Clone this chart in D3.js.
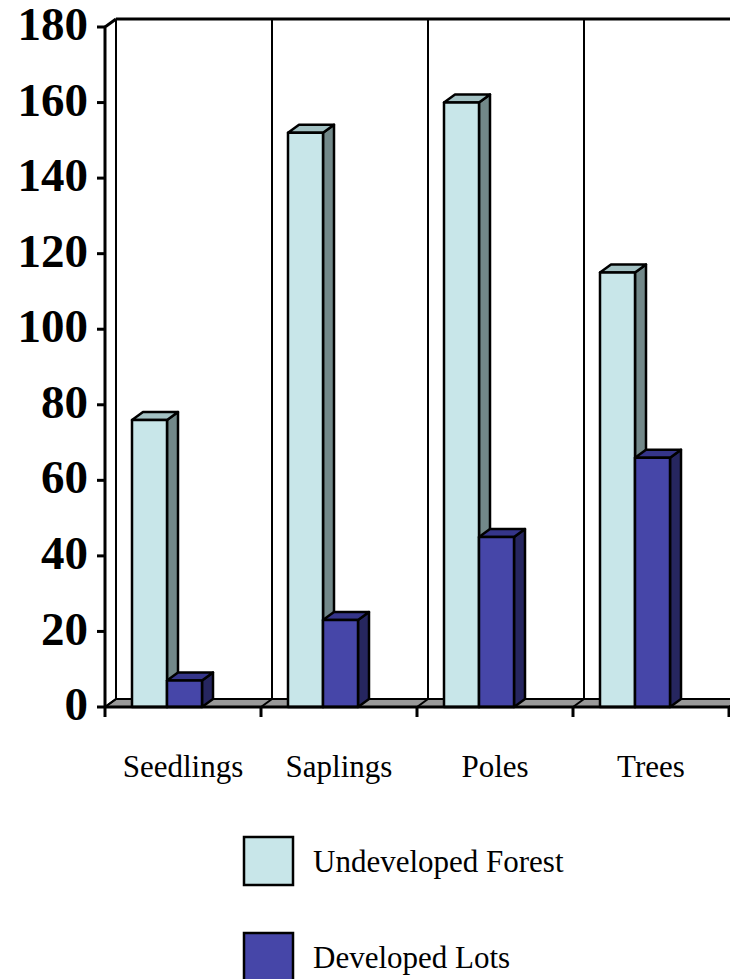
<!DOCTYPE html>
<html>
<head>
<meta charset="utf-8">
<script src="https://cdn.jsdelivr.net/npm/d3@7"></script>
<style>
    body { margin: 0; background: #fff; }
    svg { display: block; }
    text { font-family: "Liberation Serif", "Times New Roman", serif; }
</style>
</head>
<body>
<div id="chart"></div>
<script>

// data
var categories = ["Seedlings", "Saplings", "Poles", "Trees"];
var seriesNames = ["Undeveloped Forest", "Developed Lots"];
var undeveloped = [76, 152, 160, 115];
var developed = [7, 23, 45, 66];
var yTicks = [0, 20, 40, 60, 80, 100, 120, 140, 160, 180];

var W = 730, H = 979;
var left = 105, right = 729, floorY = 707, topY = 27;
var dx = 11, dy = -8;   // 3d depth offset

var fills = [
    { front: "#c8e6e9", top: "#a3c1c3", side: "#728889" },
    { front: "#4646a8", top: "#35358a", side: "#26265f" }
];

var svg = d3.select("#chart").append("svg")
    .attr("width", W)
    .attr("height", H);

var y = d3.scaleLinear()
    .domain([0, 180])
    .range([floorY, topY]);

var x = d3.scaleBand()
    .domain(categories)
    .range([left, right]);

// bars sit inside each band
var inner = d3.scaleBand()
    .domain([0, 1])
    .range([27, 27 + 70]);

// back wall
var back = svg.append("g")
    .attr("stroke", "#000")
    .attr("stroke-width", 2)
    .attr("fill", "none");

back.append("line")
    .attr("x1", left + dx).attr("x2", W + 5)
    .attr("y1", topY + dy).attr("y2", topY + dy)
    .attr("stroke-width", 3);

var dividers = categories.map(function(c){ return x(c); });
dividers.push(right);

back.selectAll(".div")
    .data(dividers)
    .enter().append("line")
    .attr("x1", function(d){ return d + dx; })
    .attr("x2", function(d){ return d + dx; })
    .attr("y1", topY + dy)
    .attr("y2", floorY + dy);

// floor
svg.append("path")
    .attr("d", "M" + left + "," + floorY + "L" + (W + 20) + "," + floorY +
        "L" + (W + 20 + dx) + "," + (floorY + dy) + "L" + (left + dx) + "," + (floorY + dy) + "Z")
    .attr("fill", "#999")
    .attr("stroke", "#000")
    .attr("stroke-width", 2);

svg.selectAll(".floorDiv")
    .data(dividers)
    .enter().append("line")
    .attr("x1", function(d){ return d; })
    .attr("x2", function(d){ return d + dx; })
    .attr("y1", floorY)
    .attr("y2", floorY + dy)
    .attr("stroke", "#000")
    .attr("stroke-width", 2);

// bars
function drawBar(g, x0, w, v, f){
    var yt = y(v), yb = y(0);
    g.append("path")
        .attr("d", "M" + (x0 + w) + "," + yb + "L" + (x0 + w + dx) + "," + (yb + dy) +
            "L" + (x0 + w + dx) + "," + (yt + dy) + "L" + (x0 + w) + "," + yt + "Z")
        .attr("fill", f.side);
    g.append("path")
        .attr("d", "M" + x0 + "," + yt + "L" + (x0 + dx) + "," + (yt + dy) +
            "L" + (x0 + w + dx) + "," + (yt + dy) + "L" + (x0 + w) + "," + yt + "Z")
        .attr("fill", f.top);
    g.append("rect")
        .attr("x", x0).attr("y", yt)
        .attr("width", w).attr("height", yb - yt)
        .attr("fill", f.front);
}

var series = [undeveloped, developed];

var barsG = svg.append("g")
    .attr("stroke", "#000")
    .attr("stroke-width", 2.5)
    .attr("stroke-linejoin", "round");

categories.forEach(function(c, i){
    series.forEach(function(s, j){
        drawBar(barsG, x(c) + inner(j), inner.bandwidth(), s[i], fills[j]);
    });
});

// front axes
var axisG = svg.append("g")
    .attr("stroke", "#000")
    .attr("stroke-width", 3)
    .attr("fill", "none");

axisG.append("path")
    .attr("d", "M" + left + "," + floorY + "L" + left + "," + topY + "L" + (left + dx) + "," + (topY + dy));

axisG.append("line")
    .attr("x1", left).attr("x2", W + 5)
    .attr("y1", floorY).attr("y2", floorY);

axisG.selectAll(".yt")
    .data(yTicks)
    .enter().append("line")
    .attr("x1", left - 8).attr("x2", left)
    .attr("y1", function(d){ return y(d); })
    .attr("y2", function(d){ return y(d); });

axisG.selectAll(".xt")
    .data(dividers)
    .enter().append("line")
    .attr("x1", function(d){ return d; })
    .attr("x2", function(d){ return d; })
    .attr("y1", floorY)
    .attr("y2", floorY + 10);

// tick labels
svg.selectAll(".ylab")
    .data(yTicks)
    .enter().append("text")
    .attr("x", left - 17)
    .attr("y", function(d){ return y(d); })
    .attr("dy", "0.28em")
    .attr("text-anchor", "end")
    .attr("font-size", 47)
    .attr("font-weight", "bold")
    .text(function(d){ return d; });

svg.selectAll(".xlab")
    .data(categories)
    .enter().append("text")
    .attr("x", function(d){ return x(d) + x.bandwidth() / 2; })
    .attr("y", 777)
    .attr("text-anchor", "middle")
    .attr("font-size", 31)
    .text(function(d){ return d; });

// legend
var legend = svg.selectAll(".legend")
    .data(seriesNames)
    .enter().append("g")
    .attr("transform", function(d, i){ return "translate(244," + (837 + i * 96) + ")"; });

legend.append("rect")
    .attr("width", 49)
    .attr("height", 48)
    .attr("fill", function(d, i){ return fills[i].front; })
    .attr("stroke", "#000")
    .attr("stroke-width", 2.5);

legend.append("text")
    .attr("x", 69)
    .attr("y", 35)
    .attr("font-size", 31)
    .text(function(d){ return d; });

</script>
</body>
</html>
